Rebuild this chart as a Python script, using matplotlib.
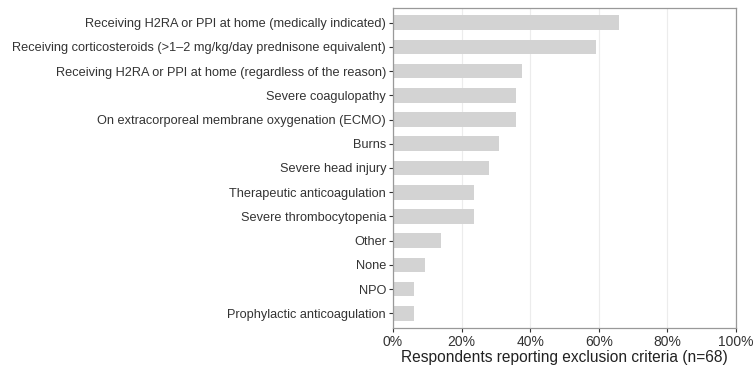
import numpy as np
import matplotlib.pyplot as plt
from matplotlib.ticker import PercentFormatter

# --- Data (percent of respondents, n=68) ---
criteria = [
    'Receiving H2RA or PPI at home (medically indicated)',
    'Receiving corticosteroids (>1\u20132 mg/kg/day prednisone equivalent)',
    'Receiving H2RA or PPI at home (regardless of the reason)',
    'Severe coagulopathy',
    'On extracorporeal membrane oxygenation (ECMO)',
    'Burns',
    'Severe head injury',
    'Therapeutic anticoagulation',
    'Severe thrombocytopenia',
    'Other',
    'None',
    'NPO',
    'Prophylactic anticoagulation',
]
percent = [65.8, 59.3, 37.5, 36.0, 36.0, 31.0, 28.0, 23.5, 23.5, 14.0, 9.3, 6.0, 6.0]
x_ticks = [0, 20, 40, 60, 80, 100]

plt.rcParams['font.family'] = ['Liberation Sans', 'DejaVu Sans']

fig = plt.figure(figsize=(7.53, 3.75), dpi=100)
ax = fig.add_axes([393 / 753, 1 - 328 / 375, (736 - 393) / 753, (328 - 8) / 375])

y_pos = np.arange(len(criteria))
ax.barh(y_pos, percent, height=0.6, color='#d3d3d3', zorder=2)

ax.set_yticks(y_pos)
ax.set_yticklabels(criteria, fontsize=9.2, color='#333333')
ax.set_ylim(len(criteria) - 0.4, -0.6)

ax.set_xlim(0, 100)
ax.set_xticks(x_ticks)
ax.xaxis.set_major_formatter(PercentFormatter(decimals=0))
ax.tick_params(axis='x', labelsize=10, colors='#333333', length=3, color='#333333', pad=2)
ax.tick_params(axis='y', length=3, color='#333333', pad=2)
ax.set_xlabel('Respondents reporting exclusion criteria (n=68)', fontsize=11.2, color='#222222', labelpad=1)

ax.grid(axis='x', color='#ececec', linewidth=0.8, zorder=0)
for s in ax.spines.values():
    s.set_color('#999999')
    s.set_linewidth(0.9)

fig.savefig('out.png', dpi=100)
